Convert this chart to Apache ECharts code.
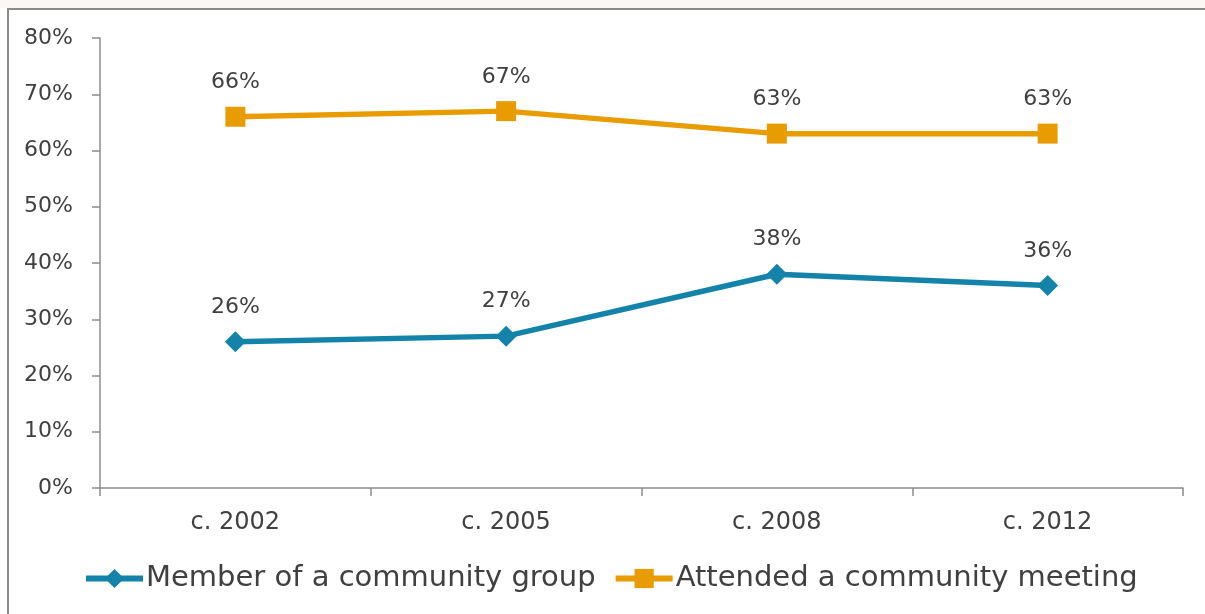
<!DOCTYPE html>
<html>
<head>
<meta charset="utf-8">
<script src="https://cdn.jsdelivr.net/npm/echarts@6/dist/echarts.min.js"></script>
<style>
  html, body { margin: 0; padding: 0; background: #ffffff; overflow: hidden; width: 1205px; height: 614px; }
  #topband { position: absolute; left: 0; top: 0; width: 1205px; height: 8px; background: #faf7f5; }
  #frame {
    position: absolute; left: 7px; top: 8px; width: 1240px; height: 640px; overflow: hidden;
    background: #ffffff; border-top: 2px solid #8a8a8a; border-left: 2px solid #8a8a8a;
  }
  #chart { position: absolute; left: -9px; top: -10px; width: 1205px; height: 614px; }
</style>
</head>
<body>
<div id="topband"></div>
<div id="frame"><div id="chart"></div></div>
<script>
// Survey years and participation shares (%)
const categories = ['c. 2002', 'c. 2005', 'c. 2008', 'c. 2012'];
const memberGroup = [26, 27, 38, 36];
const attendedMeeting = [66, 67, 63, 63];
const seriesNames = ['Member of a community group', 'Attended a community meeting'];

const FONT = '"DejaVu Sans", sans-serif';
const TEXT = '#404040';
const AXIS = '#8c8c8c';
const BLUE = '#1383aa';
const ORANGE = '#e89c00';

const chart = echarts.init(document.getElementById('chart'));

const labelStyle = {
  show: true,
  position: 'top',
  distance: 13,
  formatter: '{c}%',
  color: TEXT,
  fontFamily: FONT,
  fontSize: 22
};

chart.setOption({
  animation: false,
  grid: { left: 100, right: 22, top: 38, bottom: 126 },
  legend: {
    top: 559,
    left: 78,
    itemWidth: 57,
    itemHeight: 24,
    itemGap: 17,
    lineStyle: { width: 6 },
    textStyle: { color: TEXT, fontFamily: FONT, fontSize: 29, padding: [0, 0, 0, -2] },
    data: seriesNames
  },
  xAxis: {
    type: 'category',
    data: categories,
    boundaryGap: true,
    axisLine: { lineStyle: { color: AXIS, width: 1.5 } },
    axisTick: { show: true, length: 8, lineStyle: { color: AXIS, width: 1.5 } },
    axisLabel: { color: TEXT, fontFamily: FONT, fontSize: 24, margin: 23 }
  },
  yAxis: {
    type: 'value',
    min: 0,
    max: 80,
    interval: 10,
    axisLine: { show: true, lineStyle: { color: AXIS, width: 1.5 } },
    axisTick: { show: true, length: 8, lineStyle: { color: AXIS, width: 1.5 } },
    splitLine: { show: false },
    axisLabel: { color: TEXT, fontFamily: FONT, fontSize: 22, margin: 27, formatter: '{value}%' }
  },
  series: [
    {
      name: seriesNames[0],
      type: 'line',
      data: memberGroup,
      symbol: 'diamond',
      symbolSize: 21,
      lineStyle: { color: BLUE, width: 5.5 },
      itemStyle: { color: BLUE },
      label: labelStyle
    },
    {
      name: seriesNames[1],
      type: 'line',
      data: attendedMeeting,
      symbol: 'rect',
      symbolSize: 20,
      lineStyle: { color: ORANGE, width: 5.5 },
      itemStyle: { color: ORANGE },
      label: labelStyle
    }
  ]
});
</script>
</body>
</html>
